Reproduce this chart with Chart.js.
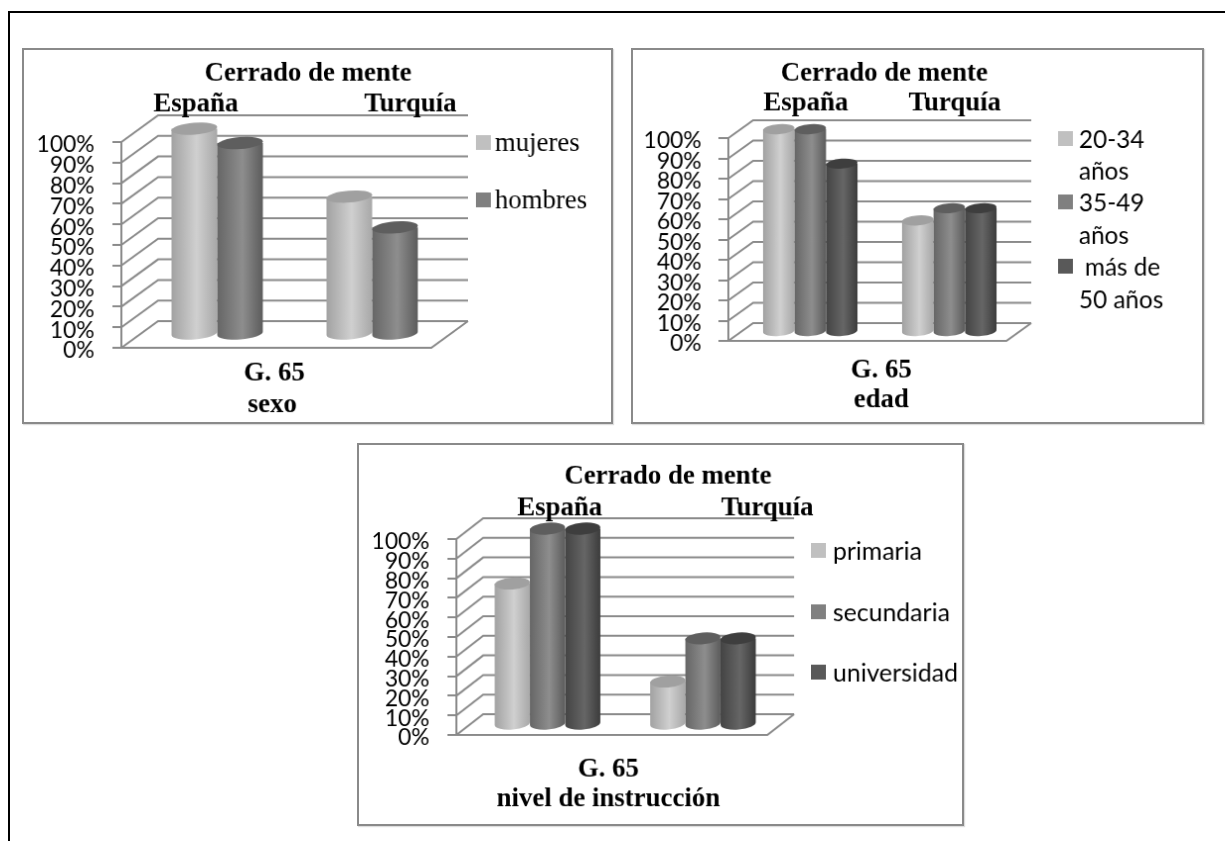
<!DOCTYPE html>
<html lang="es">
<head>
<meta charset="utf-8">
<title>Cerrado de mente</title>
<script src="https://cdn.jsdelivr.net/npm/chart.js@4"></script>
<style>
  html, body { margin: 0; background: #fff; overflow: hidden; }
  #hoja { position: absolute; left: 8px; top: 11px; width: 1217px; height: 830px; border-left: 2px solid #000; border-top: 2px solid #000; box-sizing: border-box; }
  canvas { position: absolute; box-sizing: border-box; border: 2px solid #8a8a8a; box-shadow: 1px 1px 1px #ddd; background: #fff; }
</style>
</head>
<body>
<div id="hoja"></div>
<canvas id="g1"></canvas>
<canvas id="g2"></canvas>
<canvas id="g3"></canvas>
<script>
// Datos
const paises = ['España', 'Turquía'];
const escala = [0, 10, 20, 30, 40, 50, 60, 70, 80, 90, 100];

const sexoNombres = ['mujeres', 'hombres'];
const mujeres = [100, 67];
const hombres = [93, 52];

const edadNombres = ['20-34 años', '35-49 años', 'más de 50 años'];
const edad2034 = [100, 55];
const edad3549 = [100, 61];
const edad50 = [83, 61];

const nivelNombres = ['primaria', 'secundaria', 'universidad'];
const primaria = [72, 22];
const secundaria = [100, 44];
const universidad = [100, 44];

const tituloGeneral = 'Cerrado de mente';
const figura = 'G. 65';

// tonos del cilindro: izquierda, centro, derecha, tapa, muestra de leyenda
const tonos = [
    { izq: '#a2a2a2', cen: '#d0d0d0', der: '#a8a8a8', tapa: '#a0a0a0', ley: '#c0c0c0' },
    { izq: '#666666', cen: '#8e8e8e', der: '#5c5c5c', tapa: '#5e5e5e', ley: '#808080' },
    { izq: '#444444', cen: '#666666', der: '#3c3c3c', tapa: '#3e3e3e', ley: '#595959' }
];

const serif = '"Liberation Serif", serif';
const sans = 'Lato, sans-serif';

// --- Pared, suelo y lineas de fondo del grafico 3D ---
const fondo3d = {
    id: 'fondo3d',
    beforeDatasetsDraw(chart, args, opts) {
        const { ctx, chartArea: a, scales: { y } } = chart;
        ctx.save();
        ctx.strokeStyle = '#8a8a8a';
        ctx.lineWidth = 2;
        y.ticks.forEach(t => {
            const py = y.getPixelForValue(t.value);
            ctx.beginPath();
            ctx.moveTo(a.left, py);
            ctx.lineTo(a.left + opts.dx, py + opts.dy);
            ctx.lineTo(a.right + opts.dx, py + opts.dy);
            ctx.stroke();
        });
        ctx.beginPath();
        ctx.moveTo(a.left, a.bottom);
        ctx.lineTo(a.right, a.bottom);
        ctx.lineTo(a.right + opts.dx, a.bottom + opts.dy);
        ctx.stroke();
        ctx.restore();
    }
};

// --- Cilindros a partir de las barras de Chart.js ---
const cilindros = {
    id: 'cilindros',
    afterDatasetsDraw(chart, args, opts) {
        const { ctx } = chart;
        chart.data.datasets.forEach((ds, i) => {
            const tono = tonos[opts.tonos[i]];
            chart.getDatasetMeta(i).data.forEach(barra => {
                const cx = barra.x + opts.dx / 2;
                const arriba = barra.y + opts.dy / 2;
                const abajo = barra.base + opts.dy / 2;
                const r = barra.width / 2;
                const g = ctx.createLinearGradient(cx - r, 0, cx + r, 0);
                g.addColorStop(0, tono.izq);
                g.addColorStop(0.55, tono.cen);
                g.addColorStop(1, tono.der);
                ctx.save();
                ctx.fillStyle = g;
                ctx.beginPath();
                ctx.ellipse(cx, abajo, r, opts.ry, -0.08, 0, Math.PI);
                ctx.lineTo(cx - r, arriba);
                ctx.lineTo(cx + r, arriba);
                ctx.closePath();
                ctx.fill();
                ctx.fillStyle = tono.tapa;
                ctx.beginPath();
                ctx.ellipse(cx, arriba, r, opts.ry, -0.08, 0, Math.PI * 2);
                ctx.fill();
                ctx.restore();
            });
        });
    }
};

// --- Titulos y leyenda como texto ---
const textos = {
    id: 'textos',
    afterDraw(chart, args, opts) {
        const { ctx } = chart;
        ctx.save();
        ctx.translate(-opts.origen[0], -opts.origen[1]);
        ctx.fillStyle = '#000';
        ctx.textBaseline = 'middle';
        ctx.textAlign = 'center';
        ctx.font = 'bold 27px ' + serif;
        opts.rotulos.forEach(r => ctx.fillText(r[0], r[1], r[2] + 2));
        ctx.textAlign = 'left';
        ctx.font = opts.leyendaFuente;
        opts.leyenda.forEach(l => {
            ctx.fillText(l[0], l[1], l[2] + 2);
            if (l[3] !== undefined) {
                ctx.fillStyle = tonos[l[3]].ley;
                ctx.fillRect(opts.muestraX, l[2] - 7, 15, 15);
                ctx.fillStyle = '#000';
            }
        });
        ctx.restore();
    }
};

function crearGrafico(id, caja, plano, series, nombres, extra) {
    const lienzo = document.getElementById(id);
    lienzo.style.left = caja.x + 'px';
    lienzo.style.top = caja.y + 'px';
    lienzo.style.width = caja.w + 'px';
    lienzo.style.height = caja.h + 'px';
    lienzo.width = caja.w;
    lienzo.height = caja.h;
    return new Chart(lienzo.getContext('2d'), {
        type: 'bar',
        data: {
            labels: paises,
            datasets: series.map((s, i) => ({ label: nombres[i], data: s, backgroundColor: 'transparent' }))
        },
        plugins: [fondo3d, cilindros, textos],
        options: {
            responsive: false,
            animation: false,
            events: [],
            layout: {
                padding: {
                    left: 0,
                    top: plano.arriba - caja.y - 2,
                    right: caja.x + caja.w - plano.der - 2,
                    bottom: caja.y + caja.h - plano.abajo - 2
                }
            },
            datasets: { bar: { categoryPercentage: plano.ancho, barPercentage: 1 } },
            scales: {
                x: { display: false },
                y: {
                    min: 0,
                    max: 100,
                    afterBuildTicks: s => { s.ticks = escala.map(v => ({ value: v })); },
                    afterFit: s => { s.width = plano.izq - caja.x - 2; },
                    border: { color: '#8a8a8a', width: 2 },
                    grid: { drawOnChartArea: false, drawTicks: true, tickLength: plano.marca, color: '#8a8a8a', lineWidth: 2 },
                    ticks: {
                        autoSkip: false,
                        padding: plano.hueco,
                        labelOffset: 3,
                        color: '#000',
                        font: { family: 'Lato', size: 23 },
                        callback: v => v + '%'
                    }
                }
            },
            plugins: {
                legend: { display: false },
                title: { display: false },
                tooltip: { enabled: false },
                fondo3d: { dx: plano.dx, dy: plano.dy },
                cilindros: { dx: plano.dx, dy: plano.dy, ry: plano.ry, tonos: extra.tonos },
                textos: {
                    origen: [caja.x + 2, caja.y + 2],
                    rotulos: extra.rotulos,
                    leyenda: extra.leyenda,
                    leyendaFuente: extra.fuente,
                    muestraX: extra.muestraX
                }
            }
        }
    });
}

crearGrafico('g1',
    { x: 22, y: 48, w: 591, h: 376 },
    { izq: 122, der: 430, arriba: 143, abajo: 347, dx: 37, dy: -27, ry: 6, ancho: 0.59, marca: 9, hueco: 18 },
    [mujeres, hombres],
    sexoNombres,
    {
        tonos: [0, 1],
        rotulos: [
            [tituloGeneral, 310, 72], [paises[0], 197, 103], [paises[1], 413, 103],
            [figura, 276, 375], ['sexo', 274, 407]
        ],
        fuente: '27px ' + serif,
        muestraX: 479,
        leyenda: [[sexoNombres[0], 498, 143, 0], [sexoNombres[1], 498, 201, 1]]
    });

crearGrafico('g2',
    { x: 631, y: 48, w: 573, h: 376 },
    { izq: 729, der: 1005, arriba: 139, abajo: 340, dx: 25, dy: -18, ry: 5, ancho: 0.68, marca: 10, hueco: 17 },
    [edad2034, edad3549, edad50],
    edadNombres,
    {
        tonos: [0, 1, 2],
        rotulos: [
            [tituloGeneral, 886, 72], [paises[0], 807, 102], [paises[1], 957, 102],
            [figura, 883, 372], ['edad', 883, 402]
        ],
        fuente: '24.5px ' + sans,
        muestraX: 1061,
        leyenda: [
            ['20-34', 1082, 139, 0], ['años', 1082, 171],
            ['35-49', 1082, 203, 1], ['años', 1082, 236],
            ['más de', 1088, 268, 2], ['50 años', 1082, 301]
        ]
    });

crearGrafico('g3',
    { x: 357, y: 443, w: 607, h: 383 },
    { izq: 457, der: 766, arriba: 540, abajo: 734, dx: 27, dy: -21, ry: 6, ancho: 0.68, marca: 9, hueco: 18 },
    [primaria, secundaria, universidad],
    nivelNombres,
    {
        tonos: [0, 1, 2],
        rotulos: [
            [tituloGeneral, 670, 475], [paises[0], 561, 507], [paises[1], 770, 507],
            [figura, 610, 771], ['nivel de instrucción', 610, 801]
        ],
        fuente: '25px ' + sans,
        muestraX: 814,
        leyenda: [[nivelNombres[0], 836, 551, 0], [nivelNombres[1], 836, 613, 1], [nivelNombres[2], 836, 674, 2]]
    });
</script>
</body>
</html>
